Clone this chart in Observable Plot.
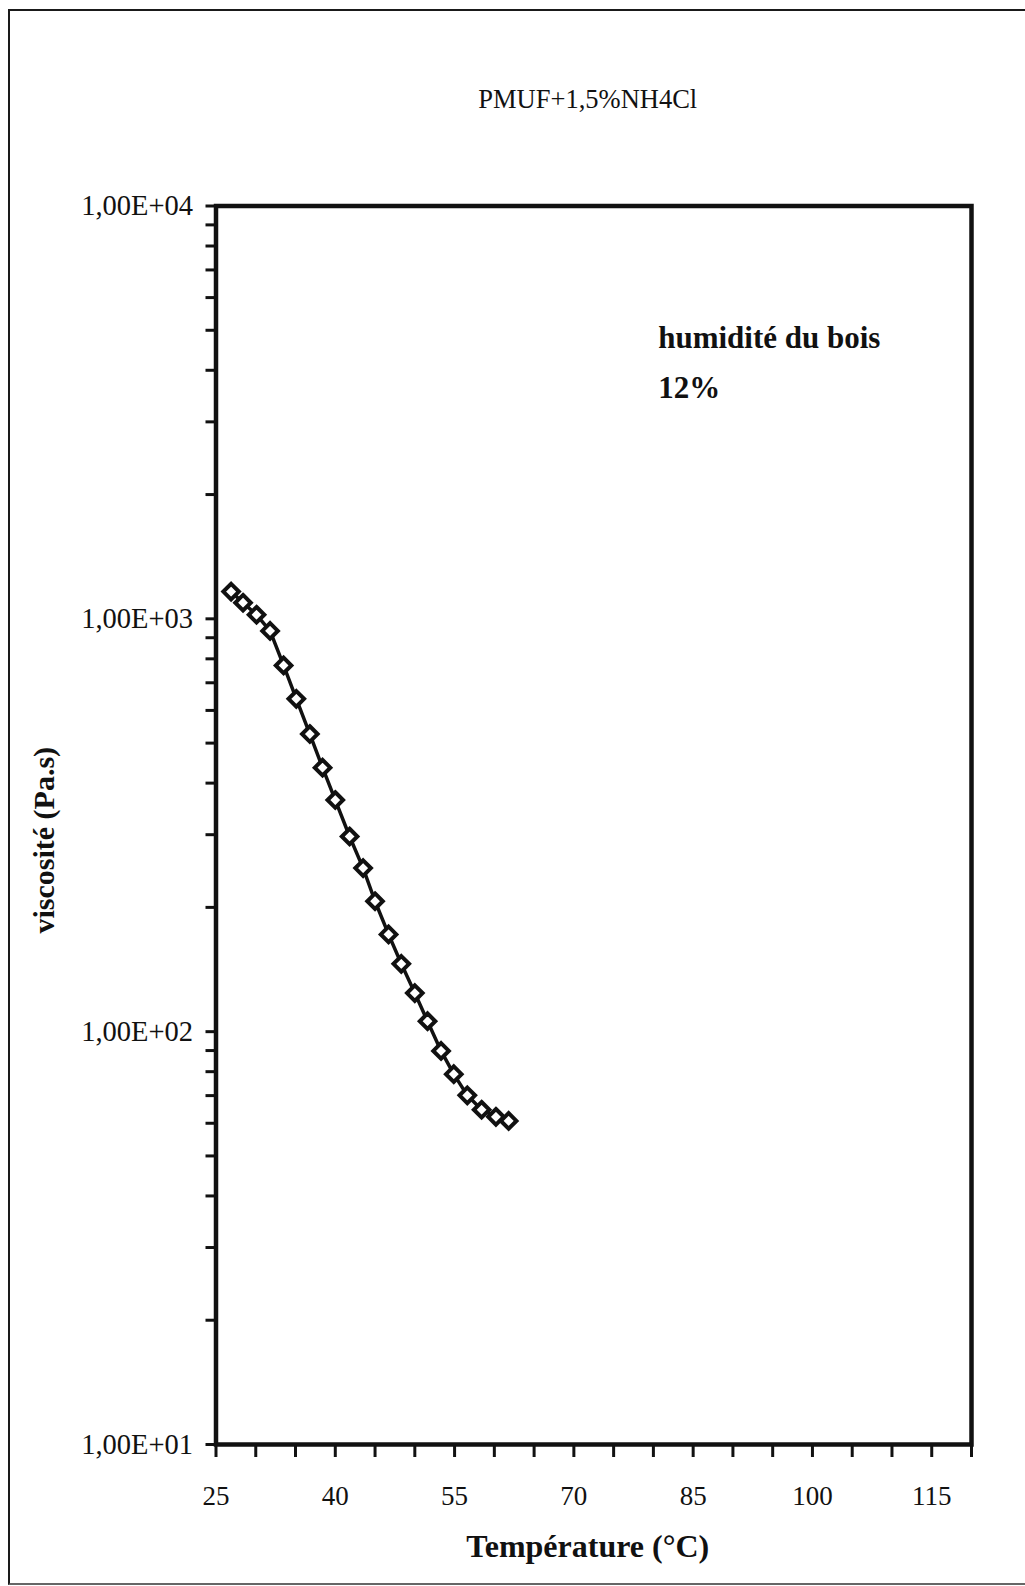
<!DOCTYPE html>
<html><head><meta charset="utf-8">
<script src="https://cdn.jsdelivr.net/npm/d3@7"></script>
<script src="https://cdn.jsdelivr.net/npm/@observablehq/plot@0.6"></script>
<style>
html,body{margin:0;padding:0;background:#fff;}
#wrap{position:relative;width:1025px;height:1586px;overflow:hidden;}
#wrap svg{position:absolute;left:0;top:0;}
#border{position:absolute;left:8px;top:9px;width:1040px;height:1572px;border-left:2.5px solid #1a1a1a;border-top:2.5px solid #1a1a1a;border-bottom:2px solid #666;pointer-events:none;}
</style></head><body><div id="wrap"><div id="border"></div></div>
<script>
// ---- data ----
const temperature = [26.9, 28.4, 30.1, 31.8, 33.5, 35.1, 36.8, 38.4, 40.0, 41.8, 43.5, 45.0, 46.7, 48.3, 50.0, 51.6, 53.3, 54.9, 56.6, 58.4, 60.2, 61.8];
const viscosity   = [1164, 1094, 1023, 935, 771, 640, 526, 436, 364, 297, 249, 207, 172, 146, 124, 106, 89.8, 78.9, 70.1, 64.7, 62.2, 60.8];

const xTickValues  = [25, 30, 35, 40, 45, 50, 55, 60, 65, 70, 75, 80, 85, 90, 95, 100, 105, 110, 115, 120];
const xLabelValues = [25, 40, 55, 70, 85, 100, 115];
const yMajorValues = [10, 100, 1000, 10000];
const yMajorLabels = ["1,00E+01", "1,00E+02", "1,00E+03", "1,00E+04"];
const yMinorValues = [20, 30, 40, 50, 60, 70, 80, 90, 200, 300, 400, 500, 600, 700, 800, 900, 2000, 3000, 4000, 5000, 6000, 7000, 8000, 9000];

const title = "PMUF+1,5%NH4Cl";
const xTitle = "Température (°C)";
const yTitle = "viscosité (Pa.s)";
const annotation = ["humidité du bois\n12%"];
const annotationX = [80.6];
const annotationY = [4300];

const data = temperature.map((t, i) => ({t, v: viscosity[i]}));
const ink = "#111";
const serif = "'Liberation Serif', 'Times New Roman', serif";

const chart = Plot.plot({
  width: 1025,
  height: 1586,
  marginLeft: 215.5,
  marginRight: 54,
  marginTop: 205.5,
  marginBottom: 142,
  style: {fontFamily: serif, background: "transparent", color: ink},
  x: {domain: [25, 120], label: null},
  y: {type: "log", domain: [10, 10000], label: null},
  marks: [
    // tick marks
    Plot.axisX(xTickValues, {anchor: "bottom", tickSize: 13, strokeWidth: 3, tickFormat: () => "", label: null, color: ink}),
    Plot.axisX(xLabelValues, {anchor: "bottom", tickSize: 0, tickPadding: 41, fontSize: 27, label: null, color: ink}),
    Plot.axisY([...yMajorValues, ...yMinorValues], {anchor: "left", tickSize: 10, strokeWidth: 3, tickFormat: () => "", label: null, color: ink}),
    Plot.axisY(yMajorValues, {anchor: "left", tickSize: 0, tickPadding: 23, fontSize: 28.5, label: null, color: ink,
      tickFormat: d => yMajorLabels[yMajorValues.indexOf(d)]}),
    Plot.frame({stroke: ink, strokeWidth: 4.5}),
    // series
    Plot.line(data, {x: "t", y: "v", stroke: ink, strokeWidth: 3.5}),
    Plot.dot(data, {x: "t", y: "v", symbol: "diamond2", r: 7, fill: "white", stroke: ink, strokeWidth: 4}),
    // texts
    Plot.text(annotation, {x: annotationX, y: annotationY, textAnchor: "start", lineAnchor: "middle", lineHeight: 1.6,
      fontSize: 31, fontWeight: "bold", fill: ink}),
    Plot.text([title], {frameAnchor: "top", dy: -117, dx: -6, fontSize: 26.5, fill: ink}),
    Plot.text([xTitle], {frameAnchor: "bottom", dy: 112, dx: -6, fontSize: 32, fontWeight: "bold", fill: ink}),
    Plot.text([yTitle], {frameAnchor: "left", textAnchor: "middle", dx: -172, dy: 15, rotate: -90, fontSize: 30, fontWeight: "bold", fill: ink})
  ]
});
document.getElementById("wrap").prepend(chart);
</script>
</body></html>
